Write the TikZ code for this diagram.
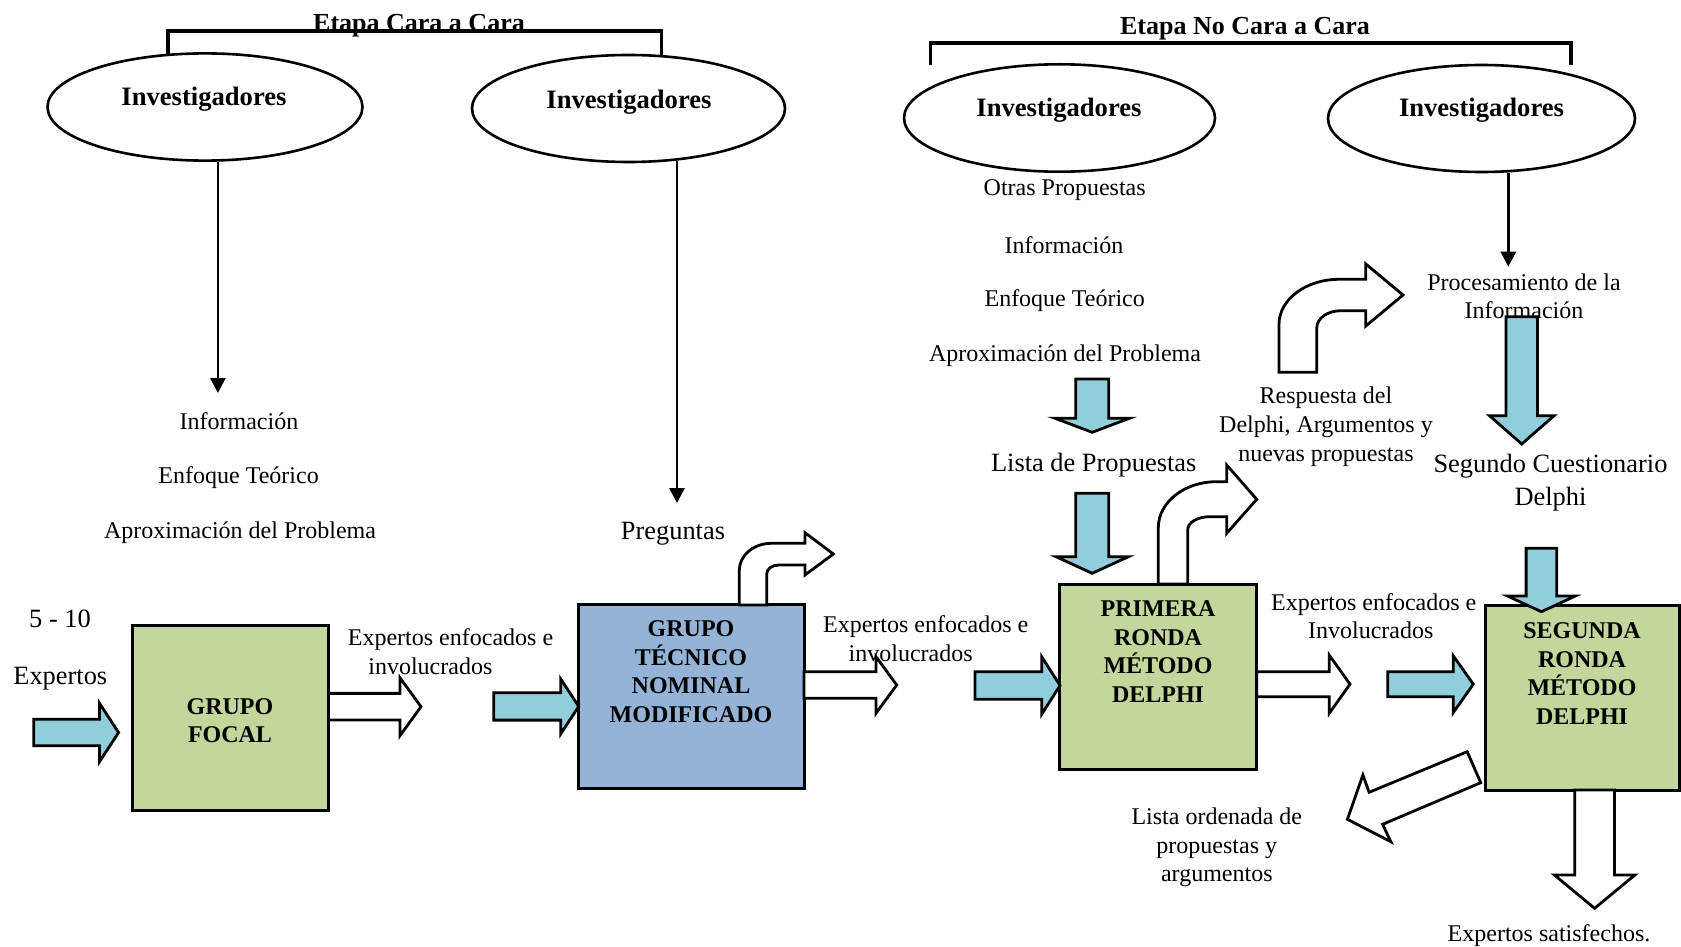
\documentclass[tikz,border=0pt]{standalone}
\usepackage{fontspec}
\setmainfont{Liberation Serif}
\usetikzlibrary{shapes.geometric,arrows.meta}
\definecolor{aqua}{HTML}{92CDDC}
\definecolor{olivebox}{HTML}{C3D69B}
\definecolor{steelbox}{HTML}{95B3D7}
\tikzset{
  lbl/.style={inner sep=0pt, yshift=-1.2pt, font=\fontsize{12}{14.4}\selectfont, align=center},
  biglbl/.style={inner sep=0pt, yshift=-1.2pt, font=\fontsize{13.2}{16.3}\selectfont, align=center},
  ttl/.style={inner sep=0pt, yshift=-2pt, font=\bfseries\fontsize{13}{15}\selectfont},
  invtxt/.style={inner sep=0pt, yshift=-1.2pt, font=\bfseries\fontsize{13.3}{15}\selectfont},
  invell/.style={draw, ellipse, line width=1.3pt, inner sep=0pt},
  box/.style={draw, line width=1.5pt, inner sep=0pt},
  boxtxt/.style={inner sep=0pt, font=\bfseries\fontsize{12}{14.35}\selectfont, align=center},
  blk/.style={draw, line width=1.4pt, line join=miter},
  conn/.style={line width=1.4pt, -{Triangle[width=7.5pt,length=7.5pt]}},
  brk/.style={line width=1.8pt},
}
% block arrows: style, tail x, head-back x, tip x, mid y, half shaft, half head
\newcommand\rightblock[7]{\draw[blk,#1] (#2,{#5-#6}) -- (#3,{#5-#6}) -- (#3,{#5-#7}) -- (#4,#5) -- (#3,{#5+#7}) -- (#3,{#5+#6}) -- (#2,{#5+#6}) -- cycle;}
% style, mid x, top y, shoulder y, tip y, half shaft, half head
\newcommand\downblock[7]{\draw[blk,#1] ({#2-#6},#3) -- ({#2+#6},#3) -- ({#2+#6},#4) -- ({#2+#7},#4) -- (#2,#5) -- ({#2-#7},#4) -- ({#2-#6},#4) -- cycle;}
\begin{document}
\begin{tikzpicture}[x=0.5pt,y=-0.5pt]
\useasboundingbox (0,0) rectangle (1681,947);

% stage titles and brackets
\node[ttl] (t1) at (419,22) {Etapa Cara a Cara};
\node[ttl] (t2) at (1245,25) {Etapa No Cara a Cara};
\draw[brk] (168,54) -- (168,31) -- (661.5,31) -- (661.5,55.5);
\draw[brk] (930.6,65) -- (930.6,43) -- (1570.7,43) -- (1570.7,65);

% researchers
\node[invell, minimum width=157.5pt, minimum height=53.6pt] (inv1) at (205,107) {};
\node[invtxt] (inv1t) at (204,97) {Investigadores};
\node[invell, minimum width=156.5pt, minimum height=53.5pt] (inv2) at (628.5,108.5) {};
\node[invtxt] (inv2t) at (629,100) {Investigadores};
\node[invell, minimum width=155.5pt, minimum height=53.7pt] (inv3) at (1059.5,118) {};
\node[invtxt] (inv3t) at (1059,107.5) {Investigadores};
\node[invell, minimum width=153.5pt, minimum height=53.5pt] (inv4) at (1481.5,118.5) {};
\node[invtxt] (inv4t) at (1481.5,108) {Investigadores};

% thin connectors
\coordinate (c1) at (217.9,393);
\coordinate (c2) at (677,503);
\coordinate (c4) at (1508.3,266.7);
\draw[conn] (c1 |- inv1.south) -- (c1);
\draw[conn] ([yshift=1.3pt]c2 |- inv2.south) -- (c2);
\draw[conn] (c4 |- inv4.south) -- (c4);

% process boxes
\node[box, fill=olivebox, minimum width=98.2pt, minimum height=92.85pt] (gf) at (230.2,717.9) {};
\node[box, fill=steelbox, minimum width=112.85pt, minimum height=92.15pt] (gt) at (691.2,696.2) {};
\node[box, fill=olivebox, minimum width=98.55pt, minimum height=92.5pt] (pr) at (1158.2,676.5) {};
\node[box, fill=olivebox, minimum width=97pt, minimum height=92.15pt] (sg) at (1582,697.9) {};

% straight block arrows
\rightblock{fill=aqua}{33.7}{99.5}{118.6}{732.5}{13.2}{29.2}
\rightblock{fill=white}{328.4}{400}{421}{706.7}{13.35}{28.9}
\rightblock{fill=aqua}{493.7}{560.7}{578.7}{706.4}{13.7}{27.5}
\rightblock{fill=white}{804}{876}{896.7}{685}{13.3}{28.3}
\rightblock{fill=aqua}{975}{1041.7}{1060}{685.5}{13.8}{28.7}
\rightblock{fill=white}{1256.7}{1329.3}{1350}{684.2}{12.5}{29}
\rightblock{fill=aqua}{1387.7}{1453.3}{1473.3}{684.2}{12.5}{28.3}
\downblock{fill=aqua}{1092.2}{379}{418.3}{432.3}{16.5}{37.2}
\downblock{fill=aqua}{1092.2}{493.3}{556.7}{573.3}{16.5}{36.2}
\downblock{fill=aqua}{1521.75}{316.7}{415.7}{444}{15.75}{32.3}
\downblock{fill=aqua}{1541.4}{548.3}{596}{611.7}{15.3}{34}
\downblock{fill=white}{1594.6}{790}{875}{908.3}{19.8}{40.25}

% diagonal arrow out of the second round
\draw[blk, fill=white] (1467.2,751.7) -- (1369.1,792.3) -- (1362.9,775) -- (1347.4,819.3)
  -- (1390.8,841.7) -- (1382.6,824.3) -- (1480.7,782.7) -- cycle;

% bent arrows
\draw[blk, fill=white] (739.3,605) -- (739.3,570.3) .. controls (739.3,555.4) and (753.6,543.3) .. (771.3,543.3)
  -- (805,543.3) -- (805,532.7) -- (833.3,554) -- (805,575) -- (805,565) -- (778.7,565)
  .. controls (772.1,565) and (766.7,569) .. (766.7,574) -- (766.7,605) -- cycle;
\draw[blk, fill=white] (1158.3,584) -- (1158.3,527.7) .. controls (1158.3,502.3) and (1184.3,481.7) .. (1216.3,481.7)
  -- (1226.7,481.7) -- (1226.7,465) -- (1256.7,499.3) -- (1226.7,533.3) -- (1226.7,516.7) -- (1209.7,516.7)
  .. controls (1197.6,516.7) and (1187.7,522.5) .. (1187.7,529.7) -- (1187.7,584) -- cycle;
\draw[blk, fill=white] (1279,372.3) -- (1279,324.3) .. controls (1279,299.5) and (1305.9,279.3) .. (1339,279.3)
  -- (1365.8,279.3) -- (1365.8,264) -- (1403,295) -- (1365.8,326) -- (1365.8,310.7) -- (1340.8,310.7)
  .. controls (1327.6,310.7) and (1316.8,318.3) .. (1316.8,327.7) -- (1316.8,372.3) -- cycle;

% box captions
\node[boxtxt] (gft) at (230,720.8) {GRUPO\\FOCAL};
\node[boxtxt] (gtt) at (691,671.7) {GRUPO\\TÉCNICO\\NOMINAL\\MODIFICADO};
\node[boxtxt] (prt) at (1158,651.7) {PRIMERA\\RONDA\\MÉTODO\\DELPHI};
\node[boxtxt] (sgt) at (1582,673.7) {SEGUNDA\\RONDA\\MÉTODO\\DELPHI};

% free texts
\node[lbl] (i1) at (239,419) {Información};
\node[lbl] (i2) at (238.6,475) {Enfoque Teórico};
\node[lbl] (i3) at (240,530.7) {Aproximación del Problema};
\node[biglbl] (pq) at (673,531) {Preguntas};
\node[lbl] (o1) at (1064.7,187.3) {Otras Propuestas};
\node[lbl] (o2) at (1064,242.3) {Información};
\node[lbl] (o3) at (1064.7,298.3) {Enfoque Teórico};
\node[lbl] (o4) at (1065,353.3) {Aproximación del Problema};
\node[biglbl] (lp) at (1093.7,462.7) {Lista de Propuestas};
\node[lbl, font=\fontsize{12}{14.6}\selectfont] (rd) at (1326,424.4) {Respuesta del\\Delphi, Argumentos y\\nuevas propuestas};
\node[lbl] (pi) at (1524,293.8) {Procesamiento de la\\Información};
\node[biglbl] (sc) at (1550.5,480.3) {Segundo Cuestionario\\Delphi};
\node[biglbl] (n510) at (60,616.7) {5 - 10};
\node[biglbl] (ex) at (60.3,676.7) {Expertos};
\node[lbl, align=left, anchor=west] (ee1) at (347.5,649.2) {Expertos enfocados e\\\hspace*{10.25pt}involucrados};
\node[lbl, align=left, anchor=west] (ee2) at (822.7,635.9) {Expertos enfocados e\\\hspace*{12.8pt}involucrados};
\node[lbl, align=left, anchor=west] (ee3) at (1270.7,613.8) {Expertos enfocados e\\\hspace*{18.5pt}Involucrados};
\node[lbl] (lo) at (1216.8,845) {Lista ordenada de\\propuestas y\\argumentos};
\node[lbl] (es) at (1549,933.3) {Expertos satisfechos.};
\end{tikzpicture}
\end{document}
